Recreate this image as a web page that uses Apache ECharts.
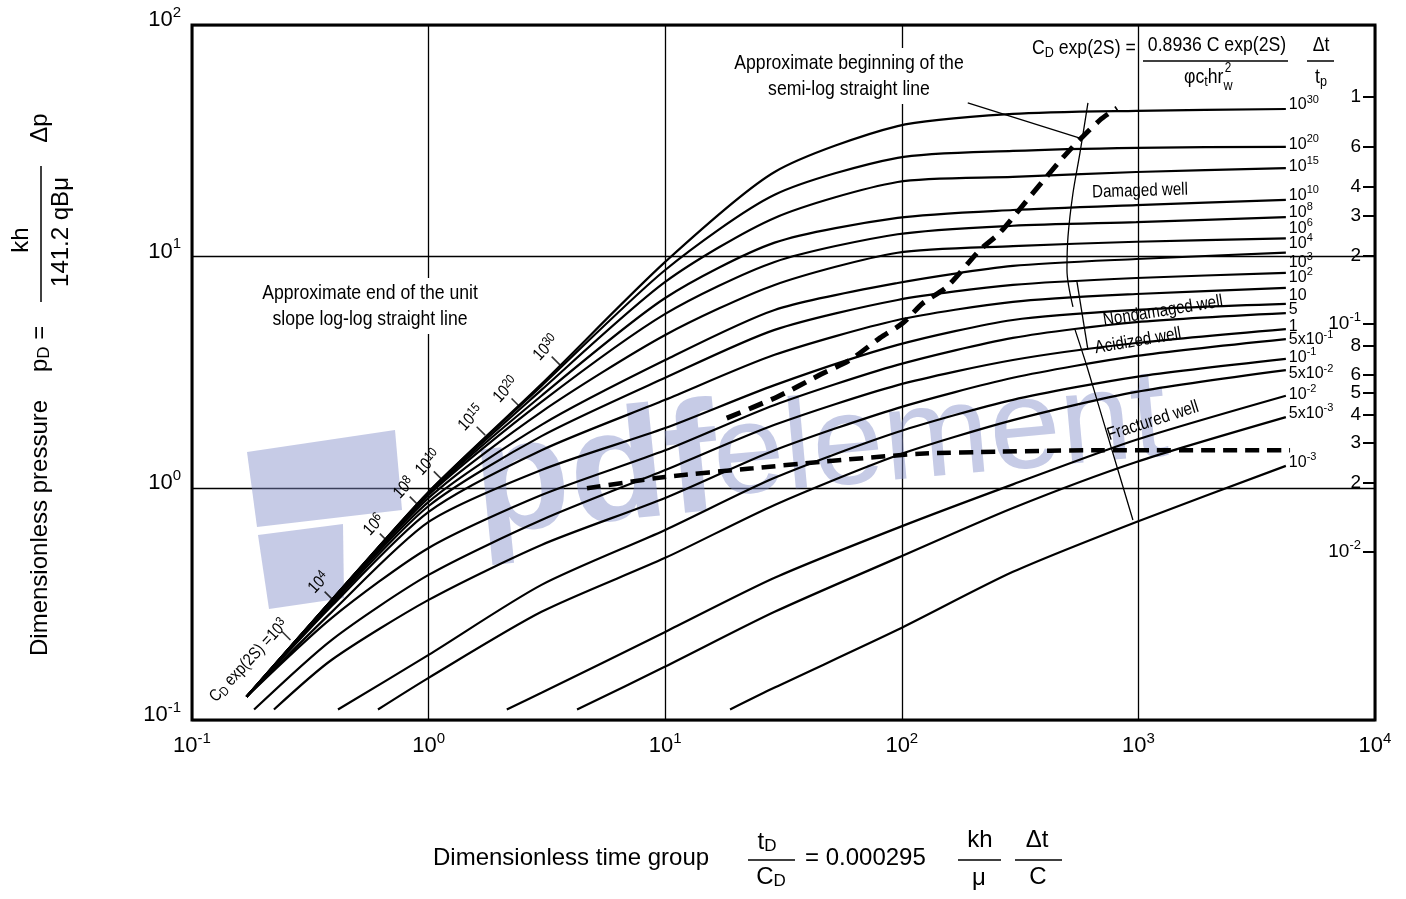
<!DOCTYPE html>
<html>
<head>
<meta charset="utf-8">
<title>Type curves</title>
<script src="https://cdn.jsdelivr.net/npm/echarts@6/dist/echarts.min.js"></script>
<style>
  html, body { margin: 0; padding: 0; background: #fff; }
  #chart { width: 1406px; height: 899px; }
</style>
</head>
<body>
<div id="chart"></div>
<script>
// values: [tD/CD, pD] pairs, one curve per CD exp(2S), top to bottom
const cdLabels = ['10^30', '10^20', '10^15', '10^10', '10^8', '10^6', '10^4', '10^3', '10^2', '10',
  '5', '1', '5x10^-1', '10^-1', '5x10^-2', '10^-2', '5x10^-3', '10^-3'];

const curve1e30 = [[0.17, 0.126], [0.39, 0.330], [1.0, 0.965], [3.0, 2.82], [10, 9.49], [29, 23.2], [96, 36.6], [295, 41.3], [980, 42.6], [4200, 43.4]];
const curve1e20 = [[0.17, 0.126], [0.39, 0.330], [1.0, 0.965], [3.0, 2.77], [10, 8.76], [29, 18.5], [96, 26.7], [295, 28.6], [980, 29.5], [4200, 29.8]];
const curve1e15 = [[0.17, 0.126], [0.39, 0.330], [1.0, 0.955], [3.0, 2.66], [10, 7.78], [29, 14.7], [96, 21.0], [295, 22.1], [980, 23.2], [4200, 24.1]];
const curve1e10 = [[0.17, 0.126], [0.39, 0.330], [1.0, 0.946], [3.0, 2.51], [10, 6.63], [29, 11.5], [96, 14.7], [295, 15.9], [980, 16.7], [4200, 17.6]];
const curve1e8 = [[0.17, 0.126], [0.39, 0.330], [1.0, 0.936], [3.0, 2.36], [10, 5.66], [29, 9.49], [96, 12.5], [295, 13.6], [980, 14.1], [4200, 14.8]];
const curve1e6 = [[0.17, 0.126], [0.39, 0.327], [1.0, 0.909], [3.0, 2.14], [10, 4.59], [29, 7.55], [96, 10.4], [295, 11.1], [980, 11.6], [4200, 12.0]];
const curve1e4 = [[0.17, 0.126], [0.39, 0.323], [1.0, 0.874], [3.0, 1.88], [10, 3.58], [29, 5.89], [96, 7.70], [295, 9.12], [980, 9.77], [4200, 10.4]];
const curve1e3 = [[0.17, 0.126], [0.39, 0.317], [1.0, 0.839], [3.0, 1.68], [10, 3.00], [29, 4.83], [96, 6.50], [295, 7.55], [980, 8.09], [4200, 8.51]];
const curve1e2 = [[0.17, 0.126], [0.39, 0.311], [1.0, 0.791], [3.0, 1.46], [10, 2.41], [29, 3.77], [96, 5.33], [295, 6.38], [980, 6.90], [4200, 7.33]];
const curve10 = [[0.17, 0.126], [0.39, 0.293], [1.0, 0.716], [3.0, 1.20], [10, 1.82], [29, 2.79], [96, 4.16], [295, 5.33], [980, 5.89], [4200, 6.25]];
const curve5 = [[0.17, 0.126], [0.39, 0.276], [1.0, 0.553], [3.0, 0.936], [10, 1.46], [29, 2.29], [96, 3.41], [295, 4.46], [980, 5.22], [4200, 5.71]];
const curve1 = [[0.183, 0.111], [0.39, 0.222], [1.0, 0.423], [3.0, 0.730], [10, 1.20], [29, 1.88], [96, 2.79], [295, 3.58], [980, 4.24], [4200, 4.87]];
const curve5em1 = [[0.222, 0.111], [0.39, 0.182], [1.0, 0.330], [3.0, 0.570], [10, 0.909], [29, 1.46], [96, 2.22], [295, 3.00], [980, 3.73], [4200, 4.41]];
const curve1em1 = [[0.414, 0.111], [1.0, 0.191], [3.0, 0.383], [10, 0.661], [29, 1.11], [96, 1.75], [295, 2.41], [980, 3.03], [4200, 3.62]];
const curve5em2 = [[0.611, 0.111], [1.0, 0.152], [3.0, 0.293], [10, 0.501], [29, 0.848], [96, 1.39], [295, 1.97], [980, 2.61], [4200, 3.24]];
const curve1em2 = [[2.14, 0.111], [3.0, 0.131], [10, 0.240], [29, 0.411], [96, 0.675], [295, 1.04], [980, 1.62], [4200, 2.51]];
const curve5em3 = [[4.24, 0.111], [10, 0.170], [29, 0.293], [96, 0.501], [295, 0.823], [980, 1.30], [4200, 2.03]];
const curve1em3 = [[18.8, 0.111], [29, 0.138], [96, 0.245], [295, 0.436], [980, 0.716], [4200, 1.25]];

// where each large-CD exp(2S) curve leaves the unit-slope line
const departLabels = ['10^3', '10^4', '10^6', '10^8', '10^10', '10^15', '10^20', '10^30'];
const departPoints = [[0.260, 0.222], [0.394, 0.330], [0.674, 0.587], [0.902, 0.848], [1.14, 1.09], [1.73, 1.70], [2.43, 2.25], [3.59, 3.41]];

// heavy dashed lines
const semilogBegin = [[18.2, 2.01], [29.7, 2.48], [45.1, 3.09], [60.4, 3.58], [80.9, 4.46], [101, 5.17], [123, 6.31], [155, 7.40], [214, 10.7], [260, 12.7], [358, 18.8], [499, 28.0], [688, 38.9], [812, 43.8]];
const unitSlopeEnd = [[4.67, 1.00], [9.98, 1.12], [23.5, 1.22], [45.1, 1.30], [119, 1.41], [260, 1.44], [688, 1.46], [4375, 1.46]];

// thin boundary lines between well conditions, and the annotation pointer
const damagedBound = [[612, 46.1], [566, 28.0], [529, 18.8], [504, 12.2], [499, 8.76], [529, 6.07]];
const acidizedBound = [[550, 7.78], [612, 3.96]];
const fracturedBound = [[540, 4.83], [607, 3.34], [736, 1.73], [948, 0.730]];
const pointerLine = [[190, 46.1], [566, 32.5]];

// right-hand dt/tp scale
const dtTpTicks = [1, 0.6, 0.4, 0.3, 0.2, 0.1, 0.08, 0.06, 0.05, 0.04, 0.03, 0.02, 0.01];
const dtTpLabels = ['1', '6', '4', '3', '2', '10^-1', '8', '6', '5', '4', '3', '2', '10^-2'];

const curves = [curve1e30, curve1e20, curve1e15, curve1e10, curve1e8, curve1e6, curve1e4, curve1e3, curve1e2,
  curve10, curve5, curve1, curve5em1, curve1em1, curve5em2, curve1em2, curve5em3, curve1em3];
const endNudge = [-4, -2, -2, -4, -5, -10, -9, -10, -10, -8, -3, -2, 1, -1, 4, -1, -4, -3];

const SANS = "'Liberation Sans', Arial, sans-serif";
const NARROW_X = 0.84; // the original lettering is condensed
const WM = 'rgba(128,140,200,0.45)';

function richText(s) {
  const i = s.indexOf('^');
  return i < 0 ? `{n|${s}}` : `{n|${s.slice(0, i)}}{e|${s.slice(i + 1)}}`;
}

function richSet(size, sup, lh) {
  return {
    n: { fontSize: size, fontFamily: SANS, lineHeight: lh, color: '#000' },
    e: { fontSize: sup, fontFamily: SANS, lineHeight: sup, verticalAlign: 'top', color: '#000' },
    s: { fontSize: sup, fontFamily: SANS, lineHeight: sup, verticalAlign: 'bottom', color: '#000' }
  };
}

const endRich = richSet(16, 11, 22);
const axisRich = richSet(22, 15, 30);
const rightRich = richSet(19, 13, 26);

const chart = echarts.init(document.getElementById('chart'));

const series = curves.map((data, i) => ({
  type: 'line',
  data,
  smooth: 0.25,
  showSymbol: false,
  silent: true,
  z: 4,
  lineStyle: { color: '#000', width: 2.2 },
  endLabel: {
    show: true,
    formatter: () => richText(cdLabels[i]),
    distance: 3,
    offset: [0, endNudge[i]],
    rich: endRich
  }
}));

series.push(
  {
    type: 'line', data: semilogBegin, smooth: 0.25, showSymbol: false, silent: true, z: 5,
    lineStyle: { color: '#000', width: 5, type: [15, 9] }
  },
  {
    type: 'line', data: unitSlopeEnd, smooth: 0.25, showSymbol: false, silent: true, z: 5,
    lineStyle: { color: '#000', width: 4.5, type: [14, 8] }
  }
);

[damagedBound, acidizedBound, fracturedBound, pointerLine].forEach(d => {
  series.push({
    type: 'line', data: d, smooth: 0.3, showSymbol: false, silent: true, z: 4,
    lineStyle: { color: '#000', width: 1.3 }
  });
});

// small ticks where the curves leave the unit slope
series.push({
  type: 'scatter', data: departPoints, symbol: 'rect', symbolSize: [1.6, 12], symbolRotate: 45,
  symbolOffset: [-4, -4], silent: true, z: 5, itemStyle: { color: '#000' }
});

const dtLogs = dtTpTicks.map(v => Math.log10(v));

const option = {
  animation: false,
  backgroundColor: '#fff',
  grid: { left: 192, right: 31, top: 25, bottom: 179, show: true, borderColor: '#000', borderWidth: 3 },
  xAxis: {
    type: 'log', logBase: 10, min: 0.1, max: 10000,
    axisLine: { show: false }, axisTick: { show: false },
    splitLine: { show: true, lineStyle: { color: '#000', width: 1.3 } },
    axisLabel: {
      margin: 11,
      formatter: v => `{n|10}{e|${Math.round(Math.log10(v))}}`,
      rich: axisRich
    }
  },
  yAxis: [
    {
      type: 'log', logBase: 10, min: 0.1, max: 100,
      axisLine: { show: false }, axisTick: { show: false },
      splitLine: { show: true, lineStyle: { color: '#000', width: 1.3 } },
      axisLabel: {
        margin: 11,
        padding: [0, 0, 10, 0],
        formatter: v => `{n|10}{e|${Math.round(Math.log10(v))}}`,
        rich: axisRich
      }
    },
    {
      type: 'value', min: -2.739, max: 0.314, position: 'right',
      axisLine: { show: false }, splitLine: { show: false },
      axisTick: { show: true, inside: true, length: 12, customValues: dtLogs, lineStyle: { color: '#000', width: 2 } },
      axisLabel: {
        inside: true, margin: 14, customValues: dtLogs,
        formatter: v => {
          const i = dtLogs.findIndex(t => Math.abs(t - v) < 1e-6);
          return i < 0 ? '' : richText(dtTpLabels[i]);
        },
        rich: rightRich
      }
    }
  ],
  series
};

chart.setOption(option);

// annotation layer; the bundle labels follow the data points
const px = departPoints.map(p => chart.convertToPixel({ xAxisIndex: 0, yAxisIndex: 0 }, p));
const rot = 47 * Math.PI / 180;
const markRich = richSet(17, 13, 20);

const departText = px.map((p, i) => {
  if (i === 0) {
    return {
      type: 'text', x: p[0] - 5, y: p[1] - 18, rotation: rot, scaleX: NARROW_X, z: 6,
      style: { text: '{n|C}{s|D}{n| exp(2S) =10}{e|3}', rich: markRich, align: 'right', verticalAlign: 'middle' }
    };
  }
  return {
    type: 'text', x: p[0] - 14, y: p[1] - 17, rotation: rot, scaleX: NARROW_X, z: 6,
    style: { text: richText(departLabels[i]), rich: markRich, align: 'center', verticalAlign: 'middle' }
  };
});

const subRich = {
  n: { fontSize: 24, fontFamily: SANS, lineHeight: 26, color: '#000' },
  s: { fontSize: 17, fontFamily: SANS, lineHeight: 16, verticalAlign: 'bottom', color: '#000' }
};
const formRich = {
  n: { fontSize: 21, fontFamily: SANS, lineHeight: 24, color: '#000' },
  s: { fontSize: 15, fontFamily: SANS, lineHeight: 14, verticalAlign: 'bottom', color: '#000' }
};

function txt(x, y, text, opts, extra) {
  return Object.assign({ type: 'text', x, y, z: 6, style: Object.assign({ text, fill: '#000', align: 'center', verticalAlign: 'middle' }, opts || {}) }, extra || {});
}
function narrow(x, y, text, opts, rotation) {
  return txt(x, y, text, opts, { scaleX: NARROW_X, rotation: rotation || 0 });
}
function bar(x1, x2, y, w) {
  return { type: 'line', z: 6, shape: { x1, y1: y, x2, y2: y }, style: { stroke: '#000', lineWidth: w || 1.5 } };
}

const graphics = [
  // watermark
  { type: 'polygon', z: 1, silent: true, shape: { points: [[247, 452], [395, 430], [402, 510], [257, 527]] }, style: { fill: WM } },
  { type: 'polygon', z: 1, silent: true, shape: { points: [[258, 535], [343, 524], [344, 598], [269, 609]] }, style: { fill: WM } },
  { type: 'text', z: 1, silent: true, x: 596, y: 478, rotation: 0.1, style: { text: 'pdf', font: 'bold 158px ' + SANS, fill: WM, align: 'center', verticalAlign: 'middle' } },
  { type: 'text', z: 1, silent: true, x: 940, y: 440, rotation: 0.09, style: { text: 'element', font: '128px ' + SANS, fill: WM, align: 'center', verticalAlign: 'middle' } },

  // annotations
  narrow(849, 76, 'Approximate beginning of the\nsemi-log straight line', { font: '21px ' + SANS, lineHeight: 26, backgroundColor: '#fff', padding: [2, 4] }),
  narrow(370, 306, 'Approximate end of the unit\nslope log-log straight line', { font: '21px ' + SANS, lineHeight: 26, backgroundColor: '#fff', padding: [2, 4] }),
  narrow(1140, 191, 'Damaged well', { font: '18px ' + SANS }, 0.03),
  narrow(1163, 311, 'Nondamaged well', { font: '18px ' + SANS }, 0.16),
  narrow(1138, 341, 'Acidized well', { font: '18px ' + SANS }, 0.17),
  narrow(1153, 421, 'Fractured well', { font: '18px ' + SANS }, 0.31),

  // CD exp(2S) definition, top right
  narrow(1032, 48, '{n|C}{s|D}{n| exp(2S) =}', { rich: formRich, align: 'left' }),
  narrow(1217, 45, '0.8936 C exp(2S)', { font: '21px ' + SANS }),
  bar(1143, 1288, 61),
  narrow(1184, 77, '{n|φc}{s|t}{n|hr}', { rich: formRich, align: 'left' }),
  narrow(1228, 68, '2', { font: '14px ' + SANS }),
  narrow(1228, 86, 'w', { font: '15px ' + SANS }),
  narrow(1321, 45, 'Δt', { font: '21px ' + SANS }),
  bar(1307, 1334, 61),
  narrow(1321, 77, '{n|t}{s|p}', { rich: formRich }),

  // x-axis title
  txt(433, 858, 'Dimensionless time group', { font: '24px ' + SANS, align: 'left' }),
  txt(767, 842, '{n|t}{s|D}', { rich: subRich }),
  bar(748, 795, 860),
  txt(771, 877, '{n|C}{s|D}', { rich: subRich }),
  txt(805, 858, '= 0.000295', { font: '24px ' + SANS, align: 'left' }),
  txt(980, 840, 'kh', { font: '24px ' + SANS }),
  bar(958, 1001, 860),
  txt(979, 878, 'μ', { font: '24px ' + SANS }),
  txt(1037, 840, 'Δt', { font: '24px ' + SANS }),
  bar(1015, 1062, 860),
  txt(1038, 877, 'C', { font: '24px ' + SANS }),

  // y-axis title, written bottom to top
  {
    type: 'group', x: 40, y: 656, rotation: Math.PI / 2, z: 6,
    children: [
      { type: 'text', x: 0, y: 0, style: { text: 'Dimensionless pressure', font: '24px ' + SANS, fill: '#000', align: 'left', verticalAlign: 'middle' } },
      { type: 'text', x: 284, y: 0, style: { text: '{n|p}{s|D}{n| =}', rich: subRich, align: 'left', verticalAlign: 'middle' } },
      { type: 'text', x: 416, y: -19, style: { text: 'kh', font: '24px ' + SANS, fill: '#000', align: 'center', verticalAlign: 'middle' } },
      { type: 'line', shape: { x1: 354, y1: 1, x2: 490, y2: 1 }, style: { stroke: '#000', lineWidth: 1.5 } },
      { type: 'text', x: 424, y: 21, style: { text: '141.2 qBμ', font: '24px ' + SANS, fill: '#000', align: 'center', verticalAlign: 'middle' } },
      { type: 'text', x: 528, y: 0, style: { text: 'Δp', font: '24px ' + SANS, fill: '#000', align: 'center', verticalAlign: 'middle' } }
    ]
  }
].concat(departText);

chart.setOption({ graphic: graphics });
</script>
</body>
</html>
